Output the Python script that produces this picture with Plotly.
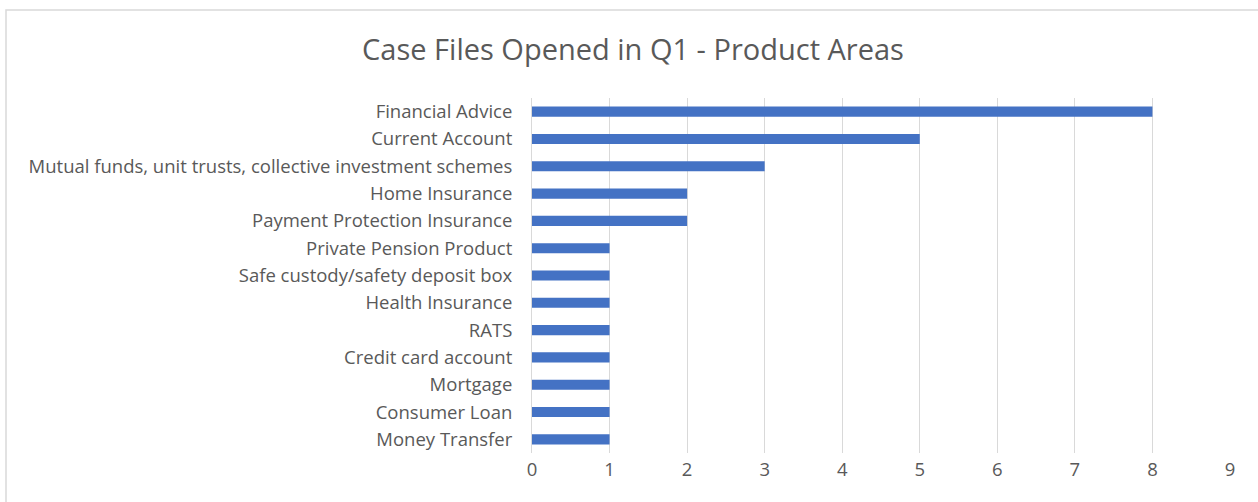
import plotly.graph_objects as go

categories = [
    "Financial Advice",
    "Current Account",
    "Mutual funds, unit trusts, collective investment schemes",
    "Home Insurance",
    "Payment Protection Insurance",
    "Private Pension Product",
    "Safe custody/safety deposit box",
    "Health Insurance",
    "RATS",
    "Credit card account",
    "Mortgage",
    "Consumer Loan",
    "Money Transfer",
]
values = [8, 5, 3, 2, 2, 1, 1, 1, 1, 1, 1, 1, 1]
x_ticks = [0, 1, 2, 3, 4, 5, 6, 7, 8, 9]
title_text = "Case Files Opened in Q1 - Product Areas"

W, H = 1258, 502
PL, PR, PT, PB = 532, 1230, 98, 453
L, T, R, B = PL, PT, W - PR, H - PB
pw, ph = W - L - R, H - T - B

def px_x(p):
    return (p - L) / pw

def px_y(p):
    return (H - B - p) / ph

fig = go.Figure(go.Bar(
    y=categories, x=values, orientation="h",
    marker=dict(color="#4472C4", line=dict(width=0)),
))

fig.update_layout(
    width=W, height=H,
    margin=dict(l=L, r=R, t=T, b=B),
    paper_bgcolor="white", plot_bgcolor="white",
    font=dict(family="Open Sans", size=18.5, color="#595959"),
    bargap=0.63,
    showlegend=False,
    title=dict(text=title_text, x=(363 + 903) / 2 / W, xanchor="center",
               y=1 - 50 / H, yanchor="middle",
               font=dict(family="Open Sans", size=29, color="#595959")),
    shapes=[dict(type="rect", xref="paper", yref="paper",
                 x0=px_x(6), x1=px_x(1266), y0=px_y(508), y1=px_y(10),
                 line=dict(color="#d9d9d9", width=1.5), layer="below")],
)
fig.update_xaxes(range=[0, 9], tickvals=x_ticks, showgrid=True, gridcolor="#d9d9d9",
                 gridwidth=1, zeroline=False, showline=False, ticks="",
                 ticklabelstandoff=3, fixedrange=True)
fig.update_yaxes(autorange="reversed", showgrid=False, zeroline=False,
                 showline=True, linecolor="#d9d9d9", linewidth=1, ticks="",
                 ticklabelstandoff=15, fixedrange=True)

fig.write_html("out.html", config={"displayModeBar": False},
               post_script="document.body.style.margin='0';document.body.style.overflow='hidden';")
